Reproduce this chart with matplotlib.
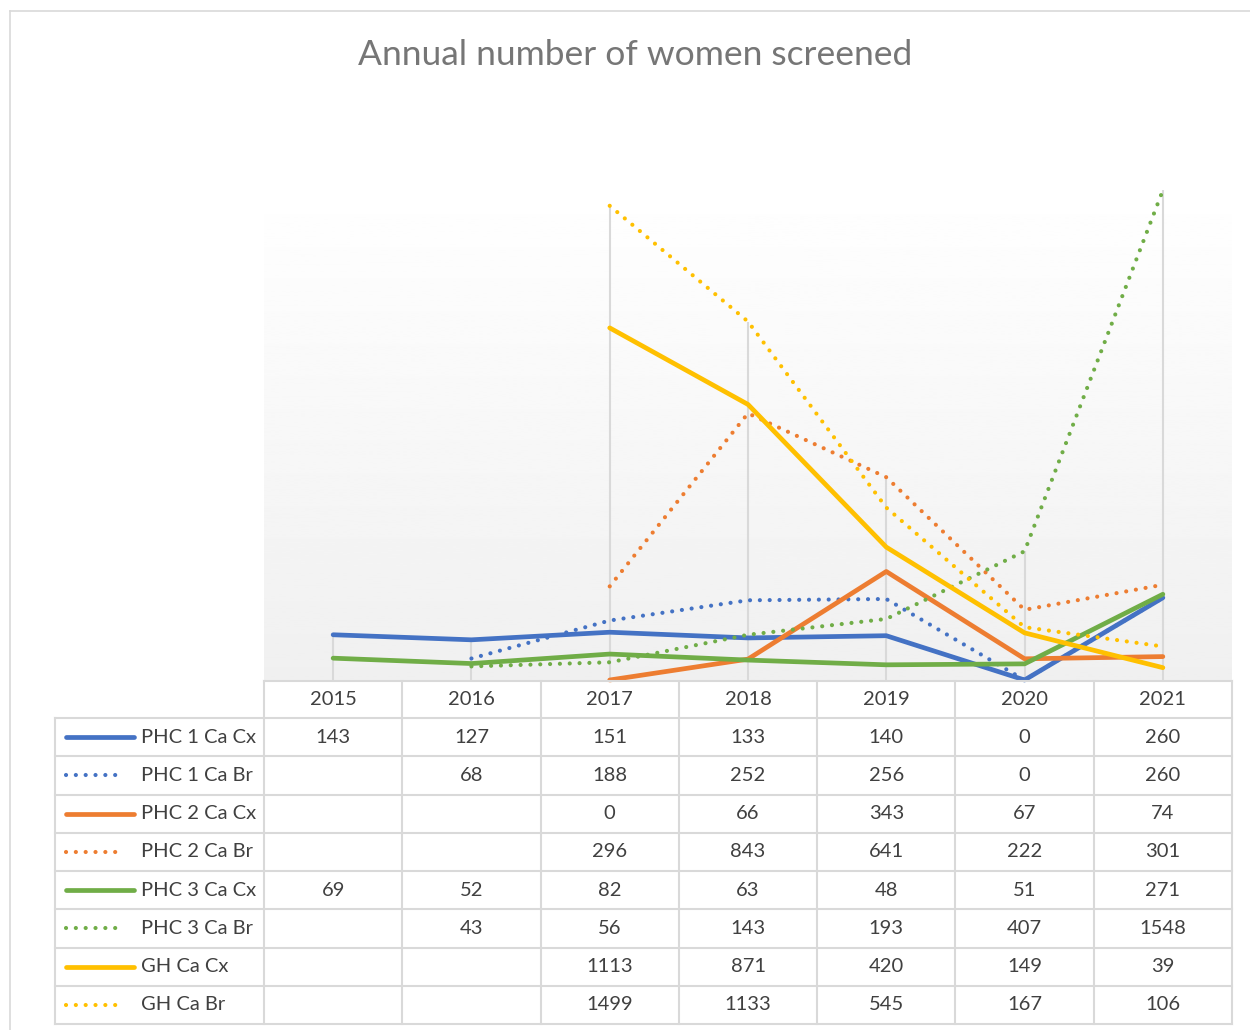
import numpy as np
import matplotlib.pyplot as plt
from matplotlib.lines import Line2D
import matplotlib.transforms as mtrans

plt.rcParams['font.family'] = ['Lato', 'DejaVu Sans']

years = ['2015', '2016', '2017', '2018', '2019', '2020', '2021']
nan = np.nan
series_names = ['PHC 1 Ca Cx', 'PHC 1 Ca Br', 'PHC 2 Ca Cx', 'PHC 2 Ca Br',
                'PHC 3 Ca Cx', 'PHC 3 Ca Br', 'GH Ca Cx', 'GH Ca Br']
phc1_cx = [143, 127, 151, 133, 140, 0, 260]
phc1_br = [nan, 68, 188, 252, 256, 0, 260]
phc2_cx = [nan, nan, 0, 66, 343, 67, 74]
phc2_br = [nan, nan, 296, 843, 641, 222, 301]
phc3_cx = [69, 52, 82, 63, 48, 51, 271]
phc3_br = [nan, 43, 56, 143, 193, 407, 1548]
gh_cx = [nan, nan, 1113, 871, 420, 149, 39]
gh_br = [nan, nan, 1499, 1133, 545, 167, 106]
series = [phc1_cx, phc1_br, phc2_cx, phc2_br, phc3_cx, phc3_br, gh_cx, gh_br]
colors = ['#4472C4', '#4472C4', '#ED7D31', '#ED7D31',
          '#70AD47', '#70AD47', '#FFC000', '#FFC000']
dotted = [False, True, False, True, False, True, False, True]

W, H = 1250, 1030
fig = plt.figure(figsize=(W/100, H/100), dpi=100)

def fx(x):
    return x / W

def fy(y):
    return 1 - y / H

DOT = (0, (0.01, 2.35))
DOT_LW = 3.0
SOLID_LW = 3.4

# plot area
left, right, top, bottom = 264, 1232, 183, 680
ax = fig.add_axes([fx(left), fy(bottom), fx(right) - fx(left), fy(top) - fy(bottom)])
ax.set_xlim(-0.5, len(years) - 0.5)
ax.set_ylim(0, 1571)
for s in ax.spines.values():
    s.set_visible(False)
ax.set_xticks([])
ax.set_yticks([])

# gradient background
grad = np.linspace(0.94, 1.0, 256).reshape(-1, 1)
ax.imshow(grad, cmap='gray', vmin=0, vmax=1, aspect='auto', origin='lower',
          extent=[-0.5, len(years) - 0.5, 0, 1571], zorder=0)

x = np.arange(len(years))
data = np.array(series, dtype=float)
tops = np.nanmax(data, axis=0)
ax.vlines(x, 0, tops, color='#d9d9d9', lw=1.5, zorder=1)

for vals, c, d in zip(series, colors, dotted):
    if d:
        ax.plot(x, vals, color=c, lw=DOT_LW, linestyle=DOT,
                dash_capstyle='round', zorder=3, clip_on=False)
    else:
        ax.plot(x, vals, color=c, lw=SOLID_LW, solid_capstyle='round', zorder=3,
                clip_on=False)

# title
fig.text(fx(635), fy(55), 'Annual number of women screened', ha='center', va='center',
         fontsize=25.5, color='#767676')

# chart border
fig.add_artist(Line2D([fx(10), fx(10)], [fy(11), fy(1040)], color='#d9d9d9', lw=1.2))
fig.add_artist(Line2D([fx(10), fx(1260)], [fy(11), fy(11)], color='#d9d9d9', lw=1.2))

# data table
grid_c = '#d9d9d9'
text_c = '#404040'
tab_left = 55
head_top, head_bot = 681, 718
row_h = 38.25
n_rows = len(series)
tab_bot = head_bot + row_h * n_rows
bt = mtrans.blended_transform_factory(ax.transData, fig.transFigure)

# horizontal lines
fig.add_artist(Line2D([fx(left), fx(right)], [fy(head_top), fy(head_top)], color=grid_c, lw=1.5))
for i in range(n_rows + 1):
    yy = head_bot + i * row_h
    fig.add_artist(Line2D([fx(tab_left), fx(right)], [fy(yy), fy(yy)], color=grid_c, lw=1.5))
# vertical lines
fig.add_artist(Line2D([fx(tab_left), fx(tab_left)], [fy(head_bot), fy(tab_bot)], color=grid_c, lw=1.5))
for b in np.arange(len(years) + 1) - 0.5:
    fig.add_artist(Line2D([b, b], [fy(head_top), fy(tab_bot)], color=grid_c, lw=1.5,
                          transform=bt))

for i, yr in enumerate(years):
    fig.text(i, fy((head_top + head_bot) / 2), yr, transform=bt, ha='center',
             va='center', fontsize=14.5, color=text_c)

for r, (name, vals, c, d) in enumerate(zip(series_names, series, colors, dotted)):
    yc = fy(head_bot + (r + 0.5) * row_h)
    if d:
        fig.add_artist(Line2D([fx(66), fx(125)], [yc, yc], color=c, lw=DOT_LW,
                              linestyle=DOT, dash_capstyle='round'))
    else:
        fig.add_artist(Line2D([fx(66), fx(134)], [yc, yc], color=c, lw=SOLID_LW,
                              solid_capstyle='round'))
    fig.text(fx(141), yc, name, ha='left', va='center', fontsize=14.5, color=text_c)
    for i, v in enumerate(vals):
        if not np.isnan(v):
            fig.text(i, yc, str(int(v)), transform=bt, ha='center', va='center',
                     fontsize=14.5, color=text_c)

fig.savefig('out.png', dpi=100)
